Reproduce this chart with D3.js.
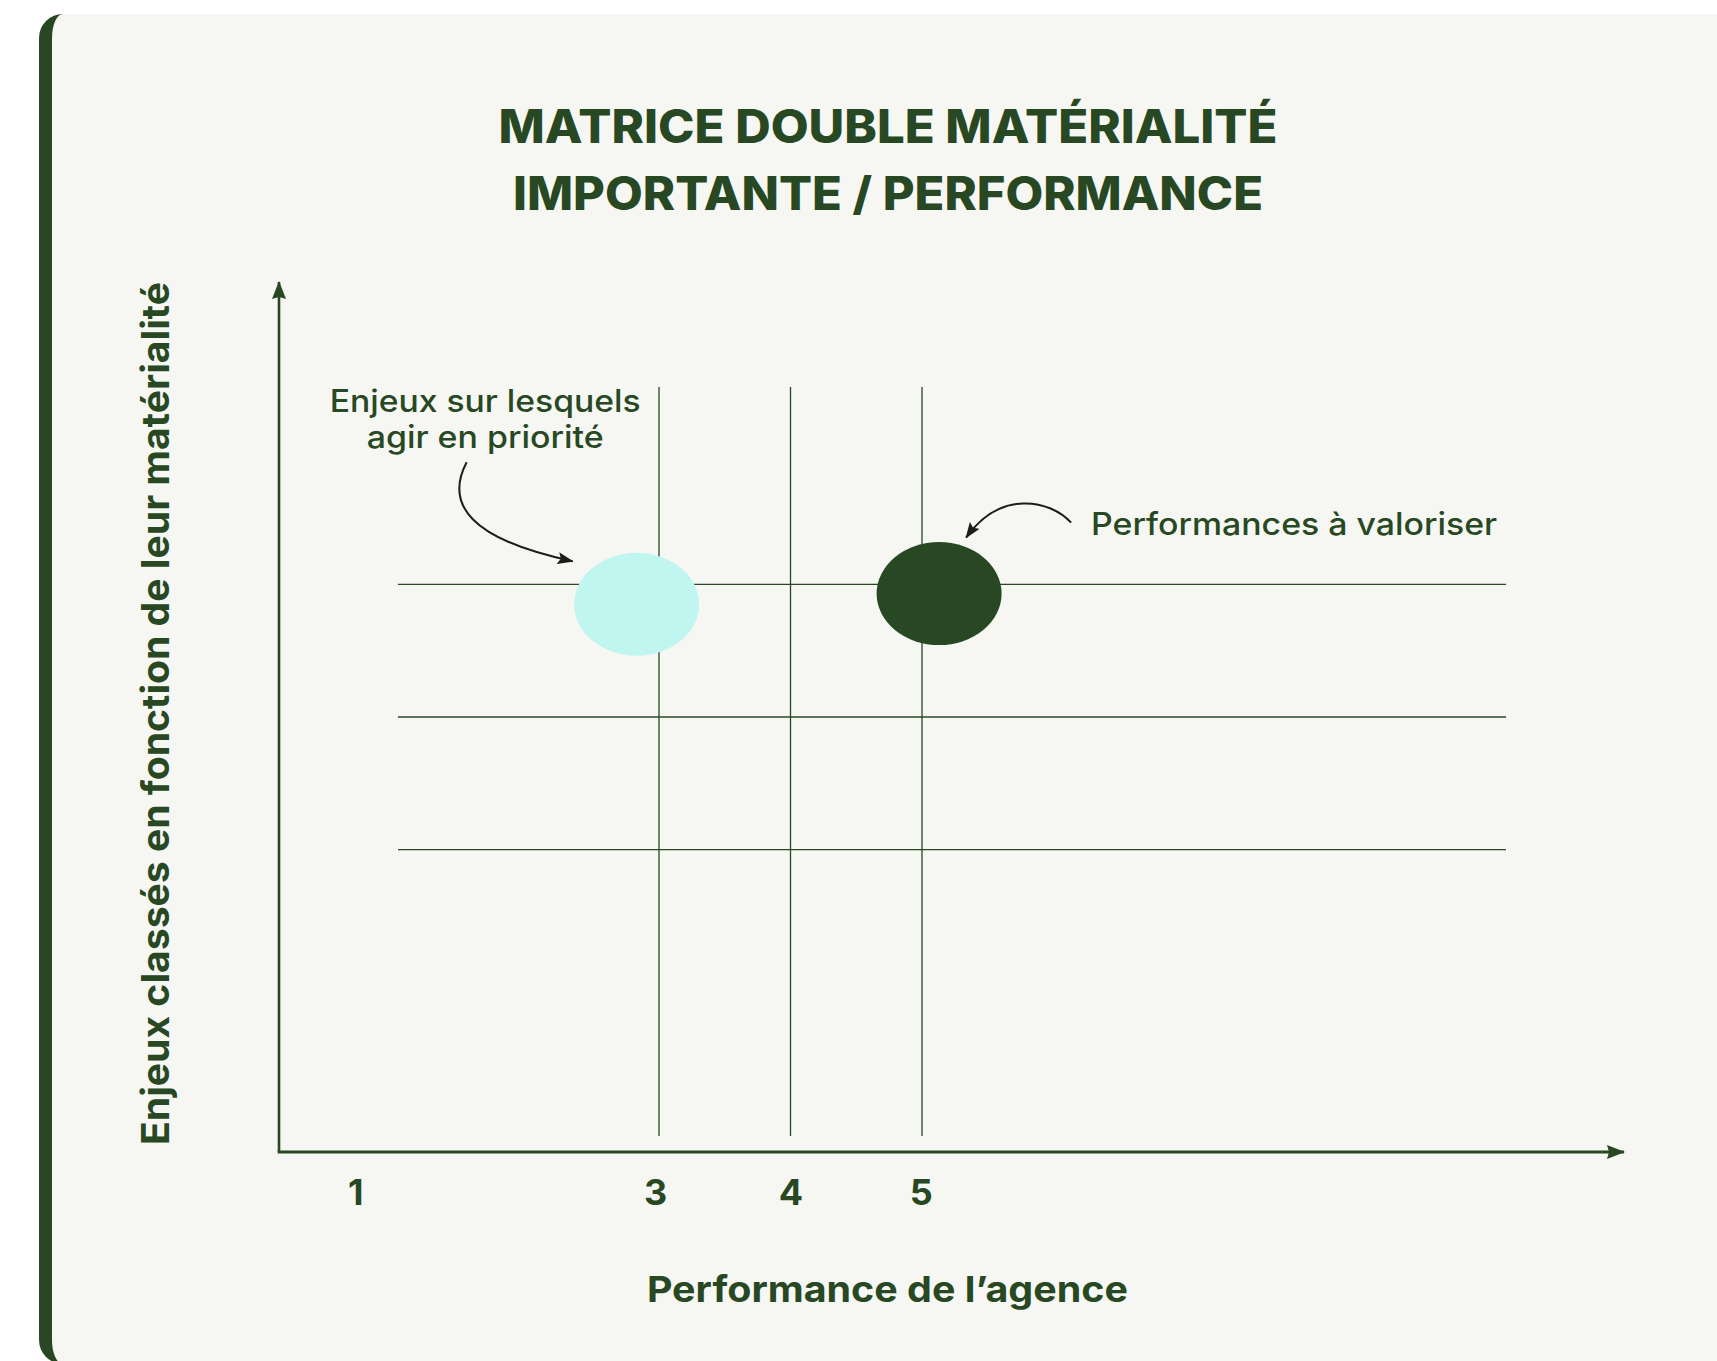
<!DOCTYPE html>
<html>
<head>
<meta charset="utf-8">
<script src="https://cdn.jsdelivr.net/npm/d3@7"></script>
<style>
  html, body { margin: 0; padding: 0; background: #ffffff; }
  svg { display: block; }
</style>
</head>
<body>
<div id="chart"></div>
<script>
// ---------- DATA ----------
const titleLines = ["MATRICE DOUBLE MATÉRIALITÉ", "IMPORTANTE / PERFORMANCE"];
const xAxisTitle = "Performance de l’agence";
const yAxisTitle = "Enjeux classés en fonction de leur matérialité";
const xTickLabels = ["1", "3", "4", "5"];
const xTickValues = [0.69, 2.97, 4, 4.99];
const xGridValues = [3, 4, 5];
const yGridValues = [1, 2, 3];
const pointNames = ["Enjeux sur lesquels agir en priorité", "Performances à valoriser"];
const pointX = [2.83, 5.13];
const pointY = [2.85, 2.93];
const pointColors = ["#c0f5f0", "#284823"];
const annotationLines = [["Enjeux sur lesquels", "agir en priorité"], ["Performances à valoriser"]];

// ---------- LAYOUT ----------
const W = 1717, H = 1361;
const GREEN = "#284823";
const BG = "#f6f7f3";
const INK = "#1c1c1c";

const svg = d3.select("#chart").append("svg").attr("width", W).attr("height", H);

// card
svg.append("path")
  .attr("d", `M63,14 H1760 V1364 H63 A24,24 0 0 1 39,1340 V38 A24,24 0 0 1 63,14 Z`)
  .attr("fill", GREEN);
svg.append("path")
  .attr("d", `M63,14 H1760 V1364 H63 A11,24 0 0 1 52,1340 V38 A11,24 0 0 1 63,14 Z`)
  .attr("fill", BG);

const defs = svg.append("defs");
defs.append("marker").attr("id", "axisHead")
  .attr("viewBox", "0 0 18 14").attr("refX", 17).attr("refY", 7)
  .attr("markerWidth", 18).attr("markerHeight", 14)
  .attr("markerUnits", "userSpaceOnUse").attr("orient", "auto")
  .append("path").attr("d", "M0,0 L18,7 L0,14 L2,7 Z").attr("fill", GREEN);
defs.append("marker").attr("id", "inkHead")
  .attr("viewBox", "0 0 16 12").attr("refX", 15).attr("refY", 6)
  .attr("markerWidth", 16).attr("markerHeight", 12)
  .attr("markerUnits", "userSpaceOnUse").attr("orient", "auto")
  .append("path").attr("d", "M0,0 L16,6 L0,12 L3,6 Z").attr("fill", INK);

function fit(sel, w) {
  const L = sel.node().getComputedTextLength();
  if (Math.abs(L - w) / w > 0.01) sel.attr("textLength", w).attr("lengthAdjust", "spacingAndGlyphs");
  return sel;
}

// ---------- SCALES ----------
const x = d3.scaleLinear().domain([3, 5]).range([659, 922]);
const y = d3.scaleLinear().domain([1, 3]).range([849.7, 584.3]);

const originX = 279, originY = 1152;
const gridTop = 387, gridBottom = 1136, gridLeft = 398, gridRight = 1506;

// ---------- TITLE ----------
const titleFont = "Inter, 'Noto Sans', sans-serif";
const titleW = [779, 750], titleBase = [143, 209.5];
titleLines.forEach((t, i) => {
  const s = svg.append("text").attr("x", 888).attr("y", titleBase[i])
    .attr("text-anchor", "middle").attr("font-family", titleFont)
    .attr("font-weight", 800).attr("font-size", 46).attr("fill", GREEN).text(t);
  fit(s, titleW[i]);
});

// ---------- GRID ----------
const g = svg.append("g");
g.selectAll("line.v").data(xGridValues).join("line")
  .attr("x1", d => x(d)).attr("x2", d => x(d))
  .attr("y1", gridTop).attr("y2", gridBottom)
  .attr("stroke", GREEN).attr("stroke-width", 1.3);
g.selectAll("line.h").data(yGridValues).join("line")
  .attr("x1", gridLeft).attr("x2", gridRight)
  .attr("y1", d => y(d)).attr("y2", d => y(d))
  .attr("stroke", GREEN).attr("stroke-width", 1.3);

// ---------- AXES ----------
svg.append("line").attr("x1", originX).attr("y1", originY)
  .attr("x2", originX).attr("y2", 282)
  .attr("stroke", GREEN).attr("stroke-width", 2.6).attr("marker-end", "url(#axisHead)");
svg.append("line").attr("x1", originX - 1.3).attr("y1", originY)
  .attr("x2", 1624).attr("y2", originY)
  .attr("stroke", GREEN).attr("stroke-width", 3).attr("marker-end", "url(#axisHead)");

const xAxis = d3.axisBottom(x).tickValues(xTickValues)
  .tickFormat((d, i) => xTickLabels[i]).tickSize(0).tickPadding(0);
const ax = svg.append("g").attr("transform", `translate(0,1205)`).call(xAxis);
ax.select(".domain").remove();
ax.selectAll("text").attr("dy", 0).attr("y", 0)
  .attr("font-family", titleFont).attr("font-weight", 700)
  .attr("font-size", 36).attr("fill", GREEN);

// axis titles
fit(svg.append("text").attr("x", 887.4).attr("y", 1301.7).attr("text-anchor", "middle")
  .attr("font-family", titleFont).attr("font-weight", 700).attr("font-size", 36)
  .attr("fill", GREEN).text(xAxisTitle), 481);
fit(svg.append("text").attr("transform", "translate(169,713.5) rotate(-90)")
  .attr("text-anchor", "middle")
  .attr("font-family", titleFont).attr("font-weight", 700).attr("font-size", 38)
  .attr("fill", GREEN).text(yAxisTitle), 863);

// ---------- POINTS ----------
const pts = pointX.map((v, i) => ({ x: v, y: pointY[i], c: pointColors[i], name: pointNames[i] }));
svg.append("g").selectAll("ellipse").data(pts).join("ellipse")
  .attr("cx", d => x(d.x)).attr("cy", d => y(d.y))
  .attr("rx", 62.5).attr("ry", 51.5).attr("fill", d => d.c);

// ---------- ANNOTATIONS ----------
const annFont = "Inter, 'Noto Sans', sans-serif";
const p0 = pts[0], p1 = pts[1];
const a0x = x(p0.x), a0y = y(p0.y);
const a1x = x(p1.x), a1y = y(p1.y);

// label 1
const l1W = [311, 237];
annotationLines[0].forEach((t, i) => {
  fit(svg.append("text").attr("x", a0x - 151.5).attr("y", a0y - 192.5 + i * 36)
    .attr("text-anchor", "middle").attr("font-family", annFont).attr("font-weight", 500)
    .attr("font-size", 31).attr("fill", GREEN).text(t), l1W[i]);
});
// label 2
fit(svg.append("text").attr("x", a1x + 152).attr("y", a1y - 59)
  .attr("font-family", annFont).attr("font-weight", 500)
  .attr("font-size", 31).attr("fill", GREEN).text(annotationLines[1][0]), 406);

// curved arrows
const arc0 = d3.path();
arc0.moveTo(a0x - 170, a0y - 142);
arc0.bezierCurveTo(a0x - 192, a0y - 100, a0x - 167, a0y - 65, a0x - 64, a0y - 43);
svg.append("path").attr("d", arc0.toString()).attr("fill", "none")
  .attr("stroke", INK).attr("stroke-width", 2).attr("marker-end", "url(#inkHead)");

const arc1 = d3.path();
arc1.moveTo(a1x + 132, a1y - 71);
arc1.bezierCurveTo(a1x + 111, a1y - 94, a1x + 61, a1y - 104, a1x + 27, a1y - 56);
svg.append("path").attr("d", arc1.toString()).attr("fill", "none")
  .attr("stroke", INK).attr("stroke-width", 2).attr("marker-end", "url(#inkHead)");
</script>
</body>
</html>
